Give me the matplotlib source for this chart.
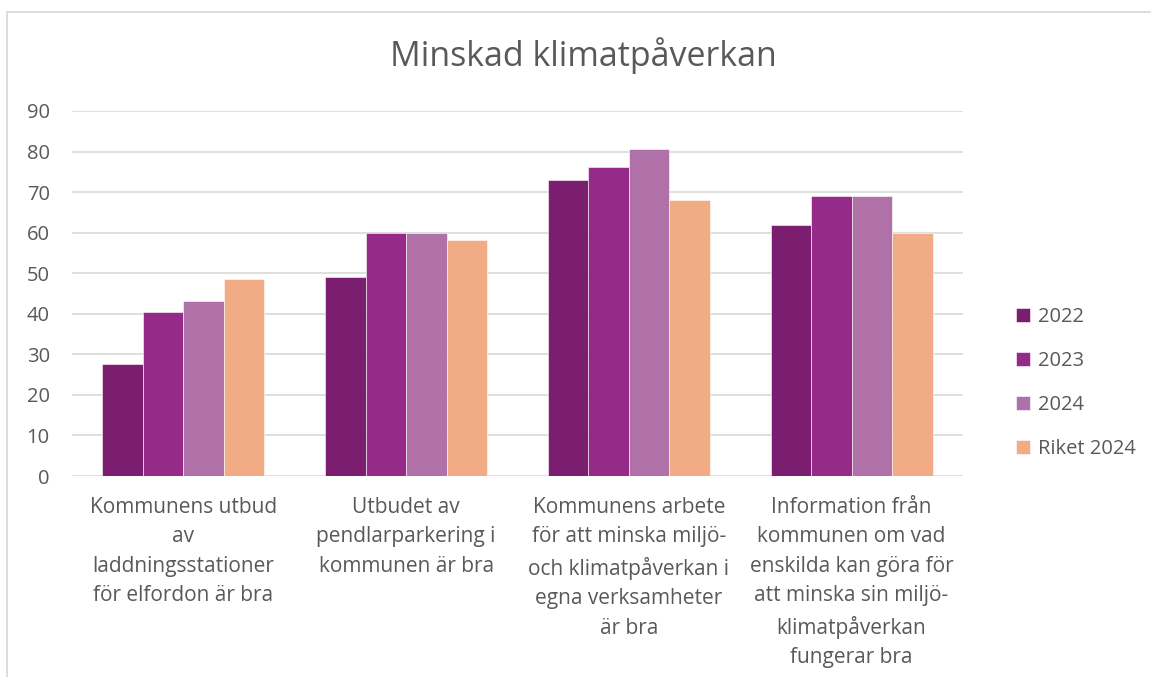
import numpy as np
import matplotlib
matplotlib.use("Agg")
import matplotlib.pyplot as plt
from matplotlib.patches import Rectangle

plt.rcParams['font.family'] = ['Open Sans', 'DejaVu Sans']

# -----------------------------
# Data
# -----------------------------
categories = [
    "Kommunens utbud\nav\nladdningsstationer\nför elfordon är bra",
    "Utbudet av\npendlarparkering i\nkommunen är bra",
    "Kommunens arbete\nför att minska miljö-\noch klimatpåverkan i\negna verksamheter\när bra",
    "Information från\nkommunen om vad\nenskilda kan göra för\natt minska sin miljö-\nklimatpåverkan\nfungerar bra",
]
series_names = ["2022", "2023", "2024", "Riket 2024"]
v2022 = [27.6, 49.1, 72.9, 61.9]
v2023 = [40.5, 60.0, 76.3, 69.0]
v2024 = [43.1, 60.0, 80.7, 69.0]
riket = [48.6, 58.3, 68.1, 60.0]
colors = ["#7B1E6F", "#952A88", "#B071A8", "#F1AB85"]

W, H = 1151, 677
fig = plt.figure(figsize=(W / 100, H / 100), dpi=100)

# outer chart border (right and bottom edges fall outside the image)
fig.patches.append(Rectangle((7 / W, -0.1), 1.2, 1.1 - 12 / H,
                             transform=fig.transFigure, fill=False,
                             edgecolor="#D9D9D9", linewidth=1.3))

ax = fig.add_axes([72 / W, 1 - 476 / H, (963 - 72) / W, (476 - 111) / H])

x = np.arange(len(categories))
bw = 0.182
all_vals = [v2022, v2023, v2024, riket]
for i, (vals, name, c) in enumerate(zip(all_vals, series_names, colors)):
    ax.bar(x + (i - 1.5) * bw, vals, bw, color=c, label=name,
           edgecolor="white", linewidth=0.4, zorder=3)

ax.set_xlim(-0.5, len(categories) - 0.5)
ax.set_ylim(0, 90)
ax.set_yticks(range(0, 91, 10))
ax.grid(axis='y', color="#D9D9D9", linewidth=1.2, zorder=0)
for s in ax.spines.values():
    s.set_visible(False)
ax.tick_params(axis='y', length=0, labelsize=14.5, colors="#595959", pad=16)
ax.set_xticks(x)
ax.set_xticklabels(categories, linespacing=1.53, va='top')
ax.tick_params(axis='x', length=0, labelsize=15, colors="#595959", pad=15)

fig.text(583 / W, 1 - 56 / H, "Minskad klimatpåverkan", ha='center', va='center',
         fontsize=24.5, color="#595959")

leg = ax.legend(loc='center left', bbox_to_anchor=(998 / W, 1 - 383 / H),
                bbox_transform=fig.transFigure, frameon=False, fontsize=14.5,
                handlelength=0.7, handleheight=0.7, handletextpad=0.4,
                labelspacing=1.2, labelcolor="#595959")

fig.savefig("out.png", dpi=100)
